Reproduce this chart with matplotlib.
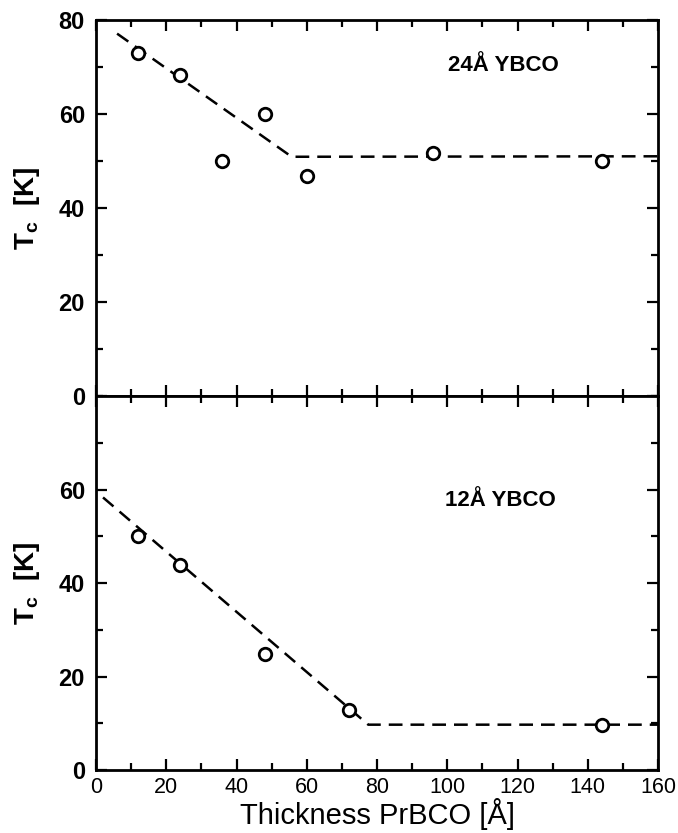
import matplotlib
matplotlib.use("Agg")
import matplotlib.pyplot as plt
from matplotlib.ticker import MultipleLocator

plt.rcParams["font.family"] = ["Liberation Sans", "DejaVu Sans"]

# 24 A YBCO (top panel)
x_24 = [12, 24, 36, 48, 60, 96, 144]
tc_24 = [72.9, 68.4, 49.9, 60.1, 46.9, 51.8, 50.1]
fit_x_24 = [6, 55.7, 160]
fit_y_24 = [77.1, 50.9, 51.0]

# 12 A YBCO (bottom panel)
x_12 = [12, 24, 48, 72, 144]
tc_12 = [50.1, 43.9, 24.9, 12.8, 9.6]
fit_x_12 = [2, 77.5, 160]
fit_y_12 = [58.3, 9.7, 9.7]

fig = plt.figure(figsize=(6.78, 8.33), dpi=100)
ax_top = fig.add_axes([0.1416, 0.5246, 0.8289, 0.4514])
ax_bot = fig.add_axes([0.1416, 0.0756, 0.8289, 0.4490])

panels = [
    (ax_top, x_24, tc_24, fit_x_24, fit_y_24, "24Å YBCO", (0.724, 0.878)),
    (ax_bot, x_12, tc_12, fit_x_12, fit_y_12, "12Å YBCO", (0.72, 0.72)),
]

for ax, xs, ys, fx, fy, lbl, pos in panels:
    ax.plot(fx, fy, color="black", linestyle=(0, (5.5, 3.2)), linewidth=1.8)
    ax.plot(xs, ys, linestyle="none", marker="o", markersize=9,
            markerfacecolor="white", markeredgecolor="black", markeredgewidth=2)
    ax.set_xlim(0, 160)
    ax.set_ylim(0, 80)
    ax.xaxis.set_major_locator(MultipleLocator(20))
    ax.xaxis.set_minor_locator(MultipleLocator(10))
    ax.yaxis.set_major_locator(MultipleLocator(20))
    ax.yaxis.set_minor_locator(MultipleLocator(10))
    ax.tick_params(which="both", direction="in", top=True, right=True, width=1.6)
    ax.tick_params(which="major", length=8)
    ax.tick_params(which="minor", length=5)
    ax.tick_params(axis="y", labelsize=17, pad=8)
    ax.tick_params(axis="x", labelsize=15.5, pad=5)
    for sp in ax.spines.values():
        sp.set_linewidth(2)
    ax.text(pos[0], pos[1], lbl, transform=ax.transAxes, fontsize=16,
            fontweight="bold", ha="center", va="center")
    ax.set_ylabel("T$_\\mathregular{c}$  [K]", fontsize=20, fontweight="bold",
                  labelpad=12)

ax_top.set_yticks([0, 20, 40, 60, 80])
ax_top.tick_params(labelbottom=False)
ax_bot.set_yticks([0, 20, 40, 60])
for ax in (ax_top, ax_bot):
    for t in ax.get_yticklabels():
        t.set_fontweight("bold")
ax_bot.set_xlabel("Thickness PrBCO [Å]", fontsize=21, labelpad=0)

fig.savefig("out.png", dpi=100)
